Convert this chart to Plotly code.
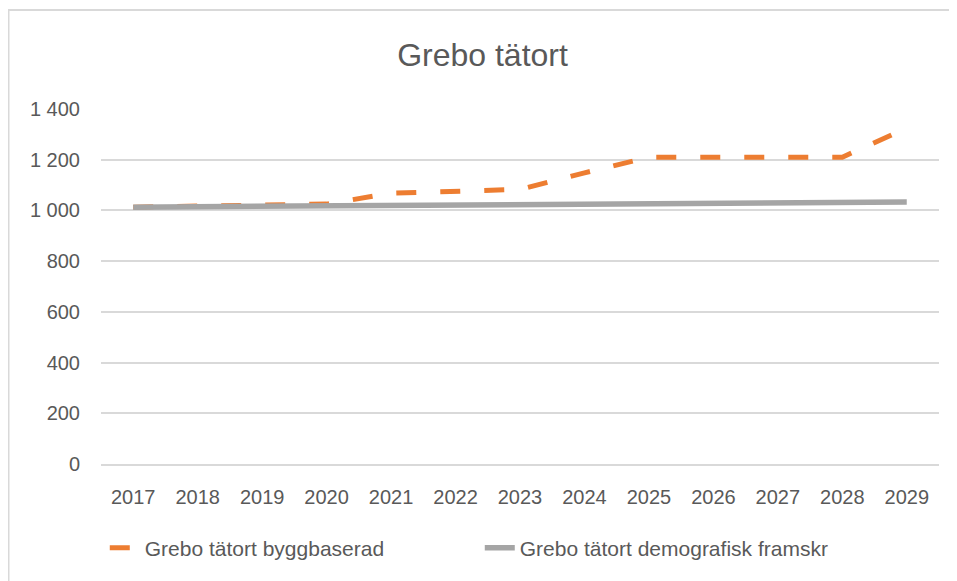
import plotly.graph_objects as go

years = ["2017", "2018", "2019", "2020", "2021", "2022", "2023",
         "2024", "2025", "2026", "2027", "2028", "2029"]
byggbaserad = [1013, 1016, 1019, 1025, 1068, 1075, 1083, 1148, 1210, 1210, 1210, 1210, 1325]
demografisk = [1013, 1015, 1016, 1017, 1020, 1021, 1022, 1024, 1026, 1027, 1030, 1032, 1033]

grey_txt = "#595959"
font = "Liberation Sans, Arial"

fig = go.Figure()
fig.add_trace(go.Scatter(x=years, y=byggbaserad, mode="lines",
                         name="Grebo tätort byggbaserad",
                         line=dict(color="#ED7D31", width=5, dash="20px,24px")))
fig.add_trace(go.Scatter(x=years, y=demografisk, mode="lines",
                         name="Grebo tätort demografisk framskr",
                         line=dict(color="#A5A5A5", width=5.5)))

# the page puts the plot 8px in from the top left corner
fig.update_layout(
    width=949, height=573,
    margin=dict(l=93, r=18, t=101, b=117),
    paper_bgcolor="white", plot_bgcolor="white",
    separators=", ",
    font=dict(family=font, size=20, color=grey_txt),
    title=dict(text="Grebo tätort", x=0.5, xanchor="center", y=0.918, yanchor="middle",
               font=dict(size=32, color=grey_txt, family=font)),
    legend=dict(orientation="h", x=0.452, xanchor="center", y=-0.237, yanchor="middle",
                font=dict(size=21, color=grey_txt), entrywidth=330),
    showlegend=True,
)
fig.update_xaxes(type="category", range=[-0.5, 12.5], showgrid=False,
                 showline=True, linecolor="#d9d9d9", linewidth=1.5,
                 ticks="", ticklabelstandoff=14)
fig.update_yaxes(range=[0, 1400], dtick=200, tickformat=",d",
                 showgrid=True, gridcolor="#d9d9d9", gridwidth=1.5,
                 zeroline=False, ticks="", ticklabelstandoff=20)

fig.add_shape(type="rect", xref="paper", yref="paper",
              x0=-0.1104, x1=1.05, y0=-0.4, y1=1.279,
              line=dict(color="#d9d9d9", width=2), layer="below")

fig.write_html("out.html")
